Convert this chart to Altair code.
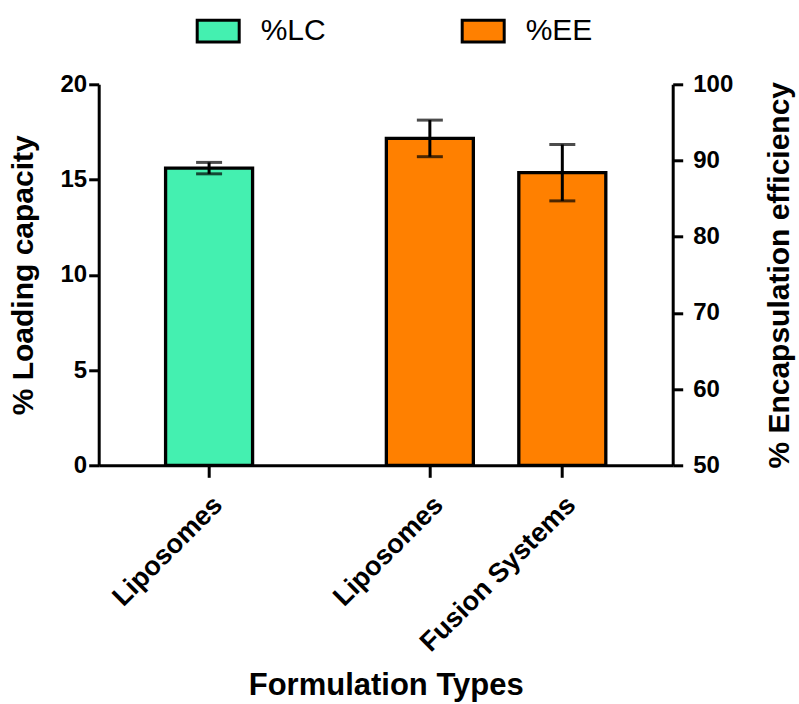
import altair as alt
import pandas as pd

# ---- data ----
formulations = ["Liposomes", "Liposomes", "Fusion Systems"]
series = ["%LC", "%EE", "%EE"]
means = [15.6, 92.9, 88.4]
errors = [0.3, 2.4, 3.7]

series_order = ["%LC", "%EE"]
series_colors = ["#44F0B0", "#FF8000"]

keys = [f"{s}|{f}" for s, f in zip(series, formulations)]
df = pd.DataFrame({
    "key": keys,
    "formulation": formulations,
    "series": series,
    "mean": means,
    "lo": [m - e for m, e in zip(means, errors)],
    "hi": [m + e for m, e in zip(means, errors)],
})

# category slots on the band scale (empty slots give GraphPad-style gaps)
x_domain = ["_1", "_2", keys[0], "_3", "_4", "_5", "_6", keys[1], "_7", "_8", keys[2], "_9", "_10"]

FONT = "Liberation Sans"

x_enc = alt.X(
    "key:N",
    scale=alt.Scale(domain=x_domain, paddingInner=0, paddingOuter=0),
    axis=alt.Axis(
        values=keys,
        labelExpr="split(datum.value, '|')[1]",
        labelAngle=315,
        labelFontSize=27,
        labelPadding=14,
        labelLimit=500,
        tickSize=12,
        title="Formulation Types",
        titleFontSize=31,
        titlePadding=14,
    ),
)

color_enc = alt.Color(
    "series:N",
    scale=alt.Scale(domain=series_order, range=series_colors),
    legend=alt.Legend(
        title=None,
        orient="none",
        direction="horizontal",
        legendX=97,
        legendY=-76,
        symbolType="M-1,-0.52H1V0.52H-1Z",
        symbolSize=1764,
        symbolStrokeColor="black",
        symbolStrokeWidth=3,
        symbolOpacity=1,
        labelFontSize=30,
        labelFontWeight="normal",
        labelOffset=20,
        columnPadding=129,
        padding=0,
    ),
)

base = alt.Chart(df)

# ---- left axis layer: loading capacity ----
lc = base.transform_filter(alt.datum.series == "%LC")
y_lc = alt.Y(
    "mean:Q",
    scale=alt.Scale(domain=[0, 20]),
    axis=alt.Axis(values=[0, 5, 10, 15, 20], title="% Loading capacity",
                  titleFontSize=30, titlePadding=22, orient="left"),
)
lc_bar = lc.mark_bar(size=87, stroke="black", strokeWidth=3.3).encode(
    x=x_enc, y=y_lc, fill=color_enc)
lc_rule = lc.mark_rule(color="black", strokeWidth=3).encode(
    x="key:N", y="lo:Q", y2="hi:Q")
lc_lo = lc.mark_tick(color="black", size=26, thickness=3).encode(x="key:N", y="lo:Q")
lc_hi = lc.mark_tick(color="black", size=26, thickness=3).encode(x="key:N", y="hi:Q")
lc_layer = alt.layer(lc_bar, lc_rule, lc_lo, lc_hi)

# ---- right axis layer: encapsulation efficiency ----
ee = base.transform_filter(alt.datum.series == "%EE")
y_ee = alt.Y(
    "mean:Q",
    scale=alt.Scale(domain=[50, 100], zero=False),
    axis=alt.Axis(values=[50, 60, 70, 80, 90, 100], title="% Encapsulation efficiency",
                  titleFontSize=30, titlePadding=32, orient="right", titleAngle=270,
                  titleBaseline="top", labelPadding=10),
)
ee_bar = ee.mark_bar(size=87, stroke="black", strokeWidth=3.3).encode(
    x=x_enc, y=y_ee, y2=alt.datum(50), fill=color_enc)
ee_rule = ee.mark_rule(color="black", strokeWidth=3).encode(
    x="key:N", y="lo:Q", y2="hi:Q")
ee_lo = ee.mark_tick(color="black", size=26, thickness=3).encode(x="key:N", y="lo:Q")
ee_hi = ee.mark_tick(color="black", size=26, thickness=3).encode(x="key:N", y="hi:Q")
ee_layer = alt.layer(ee_bar, ee_rule, ee_lo, ee_hi)

chart = (
    alt.layer(lc_layer, ee_layer)
    .resolve_scale(y="independent")
    .properties(
        width=574,
        height=381,
        autosize=alt.AutoSizeParams(type="none"),
        padding={"left": 98.7, "top": 84.3, "right": 126.3, "bottom": 238},
        background="white",
    )
    .configure(font=FONT)
    .configure_view(stroke=None)
    .configure_axis(
        domainColor="black",
        domainWidth=3,
        tickColor="black",
        tickWidth=3,
        tickSize=10,
        labelColor="black",
        labelFont=FONT,
        labelFontWeight="bold",
        labelFontSize=24,
        titleColor="black",
        titleFont=FONT,
        titleFontWeight="bold",
        grid=False,
    )
    .configure_legend(labelFont=FONT, labelColor="black")
)

chart.save("out.html", embed_options={"renderer": "svg", "actions": False})
